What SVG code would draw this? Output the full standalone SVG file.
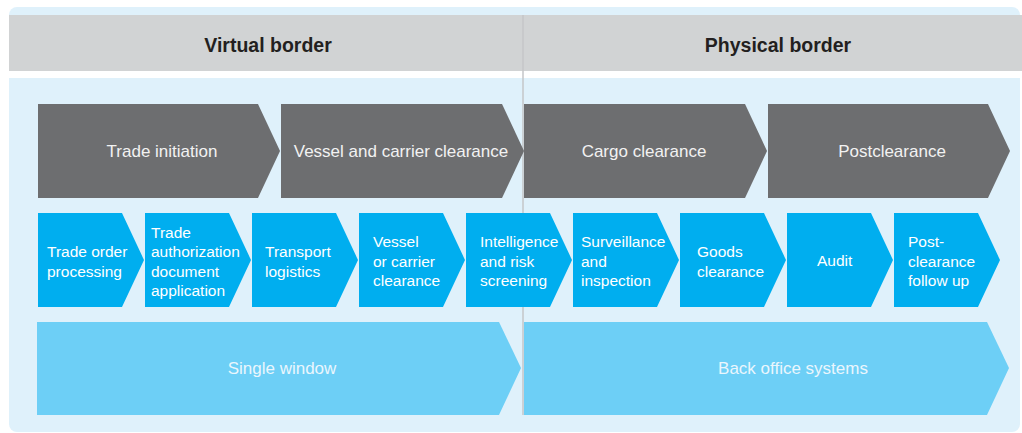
<svg xmlns="http://www.w3.org/2000/svg" width="1022" height="433" viewBox="0 0 1022 433">
<style>
.hdr{font-family:"Liberation Sans",Arial,sans-serif;font-weight:bold;font-size:19.5px;fill:#231f20;text-anchor:middle}
.dk{fill:#6d6e70}
.bl{fill:#00aeef}
.lb{fill:#6dcff6}
.dt{font-family:"Liberation Sans",Arial,sans-serif;font-size:17px;fill:#f2f2f2;text-anchor:middle}
.bt{font-family:"Liberation Sans",Arial,sans-serif;font-size:15.5px;fill:#ffffff}
.lt{font-family:"Liberation Sans",Arial,sans-serif;font-size:17px;fill:#eaf6fd;text-anchor:middle}
</style>
<rect width="1022" height="433" fill="#ffffff"/>
<g id="background">
<rect x="9" y="7" width="1011" height="425" rx="8" fill="#dff1fb"/>
<rect x="9" y="15" width="1013" height="56" fill="#d1d3d4"/>
<rect x="9" y="71" width="1013" height="7" fill="#ffffff"/>
<line x1="523" y1="15" x2="523" y2="415" stroke="#c4c6c8" stroke-width="1.5"/>
</g>
<g id="header-virtual"><text class="hdr" x="268" y="52">Virtual border</text></g>
<g id="header-physical"><text class="hdr" x="778" y="52">Physical border</text></g>

<g id="trade-initiation"><polygon class="dk" points="38,104 258,104 280,151 258,198 38,198"/><text class="dt" x="162" y="157">Trade initiation</text></g>
<g id="vessel-carrier-clearance"><polygon class="dk" points="281,104 502,104 524,151 502,198 281,198"/><text class="dt" x="401" y="157">Vessel and carrier clearance</text></g>
<g id="cargo-clearance"><polygon class="dk" points="524,104 745,104 767,151 745,198 524,198"/><text class="dt" x="644" y="157">Cargo clearance</text></g>
<g id="postclearance"><polygon class="dk" points="768,104 988,104 1010,151 988,198 768,198"/><text class="dt" x="892" y="157">Postclearance</text></g>

<g id="trade-order-processing"><polygon class="bl" points="38,213 122,213 144,260 122,307 38,307"/><text class="bt"><tspan x="47" y="257">Trade order</tspan><tspan x="47" y="276.5">processing</tspan></text></g>
<g id="trade-authorization"><polygon class="bl" points="145,213 229,213 251,260 229,307 145,307"/><text class="bt"><tspan x="151" y="237.5">Trade</tspan><tspan x="151" y="257">authorization</tspan><tspan x="151" y="276.5">document</tspan><tspan x="151" y="296">application</tspan></text></g>
<g id="transport-logistics"><polygon class="bl" points="252,213 336,213 358,260 336,307 252,307"/><text class="bt"><tspan x="265" y="257">Transport</tspan><tspan x="265" y="276.5">logistics</tspan></text></g>
<g id="vessel-carrier"><polygon class="bl" points="359,213 443,213 465,260 443,307 359,307"/><text class="bt"><tspan x="373" y="247">Vessel</tspan><tspan x="373" y="266.5">or carrier</tspan><tspan x="373" y="286">clearance</tspan></text></g>
<g id="intelligence-risk"><polygon class="bl" points="466,213 550,213 572,260 550,307 466,307"/><text class="bt"><tspan x="480" y="247">Intelligence</tspan><tspan x="480" y="266.5">and risk</tspan><tspan x="480" y="286">screening</tspan></text></g>
<g id="surveillance-inspection"><polygon class="bl" points="573,213 657,213 679,260 657,307 573,307"/><text class="bt"><tspan x="581" y="247">Surveillance</tspan><tspan x="581" y="266.5">and</tspan><tspan x="581" y="286">inspection</tspan></text></g>
<g id="goods-clearance"><polygon class="bl" points="680,213 764,213 786,260 764,307 680,307"/><text class="bt"><tspan x="697" y="257">Goods</tspan><tspan x="697" y="276.5">clearance</tspan></text></g>
<g id="audit"><polygon class="bl" points="787,213 871,213 893,260 871,307 787,307"/><text class="bt" x="817" y="266">Audit</text></g>
<g id="post-clearance-follow-up"><polygon class="bl" points="894,213 978,213 1000,260 978,307 894,307"/><text class="bt"><tspan x="908" y="247">Post-</tspan><tspan x="908" y="266.5">clearance</tspan><tspan x="908" y="286">follow up</tspan></text></g>

<g id="single-window"><polygon class="lb" points="37,322 499,322 521,368 499,415 37,415"/><text class="lt" x="282" y="374">Single window</text></g>
<g id="back-office-systems"><polygon class="lb" points="524,322 987,322 1009,368 987,415 524,415"/><text class="lt" x="793" y="374">Back office systems</text></g>
<g id="connectors"></g>
</svg>
